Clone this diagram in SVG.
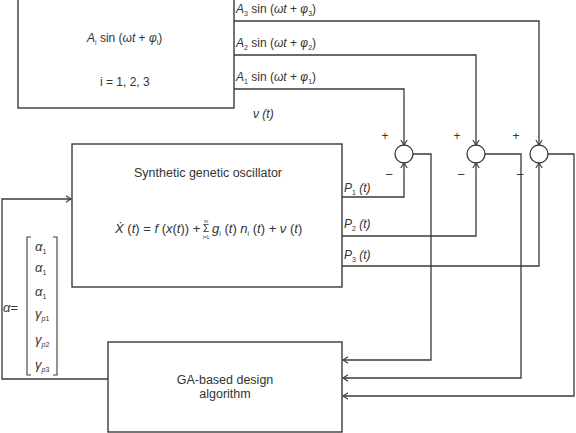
<svg xmlns="http://www.w3.org/2000/svg" width="576" height="433" viewBox="0 0 576 433">
<defs>
<marker id="arr" markerWidth="8" markerHeight="8" refX="6" refY="4" orient="auto" markerUnits="userSpaceOnUse">
<path d="M1,0.8 L6,4 L1,7.2" fill="none" stroke="#3a3a3a" stroke-width="1.1"/>
</marker>
</defs>
<style>
.box{fill:#fff;stroke:#3a3a3a;stroke-width:1.4}
.ln{fill:none;stroke:#3a3a3a;stroke-width:1.3}
.t{font-family:"Liberation Sans",Arial,sans-serif;font-size:12.5px;fill:#333}
.m{font-family:"Liberation Sans",Arial,sans-serif;font-size:12px;fill:#333}
.e{font-family:"Liberation Sans",Arial,sans-serif;font-size:13px;fill:#333}
.i{font-style:italic}
.s{font-size:7px}
.sg{fill:none;stroke:#3a3a3a;stroke-width:1.3}
</style>
<rect width="576" height="433" fill="#fff"/>

<g id="connectors">
<polyline class="ln" points="234,21 539,21 539,145" marker-end="url(#arr)"/>
<polyline class="ln" points="234,55 476,55 476,145" marker-end="url(#arr)"/>
<polyline class="ln" points="234,89 404,89 404,145" marker-end="url(#arr)"/>
<polyline class="ln" points="342,197 404,197 404,163" marker-end="url(#arr)"/>
<polyline class="ln" points="342,236 476,236 476,163" marker-end="url(#arr)"/>
<polyline class="ln" points="342,266 539,266 539,163" marker-end="url(#arr)"/>
<polyline class="ln" points="413,154 431,154 431,360 343,360" marker-end="url(#arr)"/>
<polyline class="ln" points="485,154 521,154 521,378 343,378" marker-end="url(#arr)"/>
<polyline class="ln" points="548,154 574,154 574,396 343,396" marker-end="url(#arr)"/>
<polyline class="ln" points="108,379 2,379 2,199 71,199" marker-end="url(#arr)"/>
</g>

<g id="source">
<rect class="box" x="18" y="-1" width="216" height="109"/>
<text class="m" x="87" y="42"><tspan class="i">A</tspan><tspan class="s" dy="3">i</tspan><tspan dy="-3"> sin (</tspan><tspan class="i">ωt</tspan> + <tspan class="i">φ</tspan><tspan class="s" dy="3">i</tspan><tspan dy="-3">)</tspan></text>
<text class="m" x="100" y="86">i = 1, 2, 3</text>
</g>

<g id="signal-labels">
<text class="m" x="236" y="13"><tspan class="i">A</tspan><tspan class="s" dy="3">3</tspan><tspan dy="-3"> sin (</tspan><tspan class="i">ωt</tspan> + <tspan class="i">φ</tspan><tspan class="s" dy="3">3</tspan><tspan dy="-3">)</tspan></text>
<text class="m" x="236" y="47"><tspan class="i">A</tspan><tspan class="s" dy="3">2</tspan><tspan dy="-3"> sin (</tspan><tspan class="i">ωt</tspan> + <tspan class="i">φ</tspan><tspan class="s" dy="3">2</tspan><tspan dy="-3">)</tspan></text>
<text class="m" x="236" y="81"><tspan class="i">A</tspan><tspan class="s" dy="3">1</tspan><tspan dy="-3"> sin (</tspan><tspan class="i">ωt</tspan> + <tspan class="i">φ</tspan><tspan class="s" dy="3">1</tspan><tspan dy="-3">)</tspan></text>
<text class="m i" x="253" y="118">ν (t)</text>
<text class="m" x="344" y="192"><tspan class="i">P</tspan><tspan class="s" dy="3">1</tspan><tspan dy="-3" class="i"> (t)</tspan></text>
<text class="m" x="344" y="228"><tspan class="i">P</tspan><tspan class="s" dy="3">2</tspan><tspan dy="-3" class="i"> (t)</tspan></text>
<text class="m" x="344" y="259"><tspan class="i">P</tspan><tspan class="s" dy="3">3</tspan><tspan dy="-3" class="i"> (t)</tspan></text>
</g>

<g id="sum1">
<circle class="sg" cx="404" cy="154" r="9"/>
<text class="m" x="385" y="140" text-anchor="middle">+</text>
<text class="m" x="389" y="178" text-anchor="middle">–</text>
</g>
<g id="sum2">
<circle class="sg" cx="476" cy="154" r="9"/>
<text class="m" x="457" y="140" text-anchor="middle">+</text>
<text class="m" x="461" y="178" text-anchor="middle">–</text>
</g>
<g id="sum3">
<circle class="sg" cx="539" cy="154" r="9"/>
<text class="m" x="516" y="140" text-anchor="middle">+</text>
<text class="m" x="520" y="178" text-anchor="middle">–</text>
</g>

<g id="oscillator">
<rect class="box" x="72" y="144" width="270" height="143"/>
<text class="t" x="208" y="177" text-anchor="middle">Synthetic genetic oscillator</text>
<text class="e" x="115" y="233"><tspan class="i">X&#x307;</tspan> (<tspan class="i">t</tspan>) = <tspan class="i">f</tspan> (<tspan class="i">x</tspan>(<tspan class="i">t</tspan>)) +</text>
<text class="m" x="206" y="232" text-anchor="middle" style="font-size:10px">Σ</text>
<text class="m" x="206" y="223" text-anchor="middle" style="font-size:5px">m</text>
<text class="m" x="206" y="238.5" text-anchor="middle" style="font-size:4.5px">i=1</text>
<text class="e" x="212" y="233"><tspan class="i">g</tspan><tspan class="s" dy="3">i</tspan><tspan dy="-3"> (</tspan><tspan class="i">t</tspan>) <tspan class="i">n</tspan><tspan class="s" dy="3">i</tspan><tspan dy="-3"> (</tspan><tspan class="i">t</tspan>) + <tspan class="i">ν</tspan> (<tspan class="i">t</tspan>)</text>
</g>

<g id="alpha-vector">
<text class="m" x="3" y="312" style="font-size:13px"><tspan class="i">α</tspan>=</text>
<polyline class="ln" style="stroke-width:1.1" points="31,237 27,237 27,375 31,375"/>
<polyline class="ln" style="stroke-width:1.1" points="53,237 57,237 57,375 53,375"/>
<text class="e" x="35" y="251"><tspan class="i">α</tspan><tspan class="s" dy="3">1</tspan></text>
<text class="e" x="35" y="272"><tspan class="i">α</tspan><tspan class="s" dy="3">1</tspan></text>
<text class="e" x="35" y="296"><tspan class="i">α</tspan><tspan class="s" dy="3">1</tspan></text>
<text class="e" x="35" y="318"><tspan class="i">γ</tspan><tspan class="s i" dy="3">p</tspan><tspan class="s">1</tspan></text>
<text class="e" x="35" y="344"><tspan class="i">γ</tspan><tspan class="s i" dy="3">p</tspan><tspan class="s">2</tspan></text>
<text class="e" x="35" y="369"><tspan class="i">γ</tspan><tspan class="s i" dy="3">p</tspan><tspan class="s">3</tspan></text>
</g>

<g id="ga">
<rect class="box" x="108" y="342" width="234" height="90"/>
<text class="t" x="225" y="384" text-anchor="middle">GA-based design</text>
<text class="t" x="225" y="398" text-anchor="middle">algorithm</text>
</g>
</svg>
